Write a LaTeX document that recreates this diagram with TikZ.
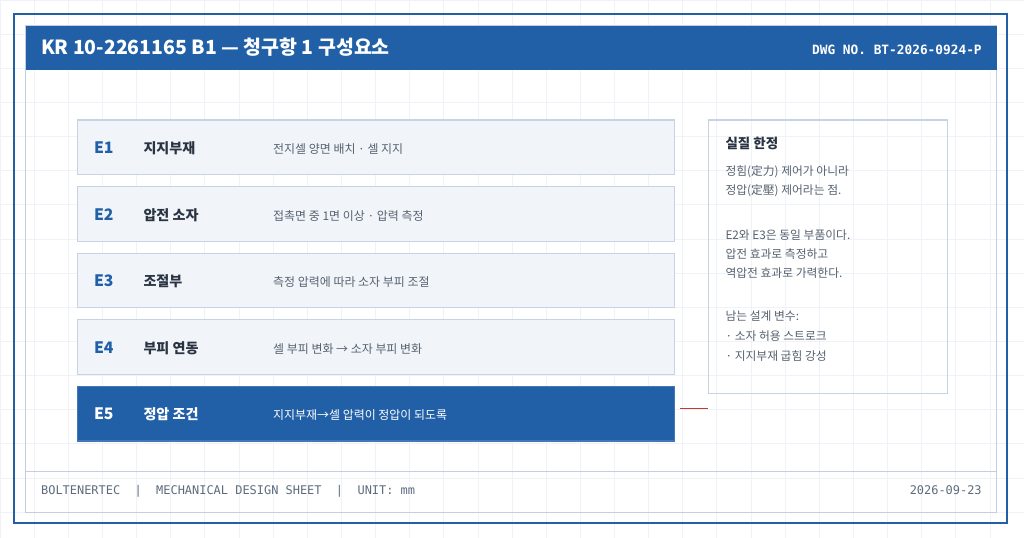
\documentclass[tikz,border=0pt]{standalone}
\usepackage{fontspec}
\setmainfont{Noto Sans CJK KR}
\newfontfamily\monof{DejaVu Sans Mono}
\usetikzlibrary{calc}
\definecolor{hdrblue}{HTML}{2160A7}
\definecolor{gridc}{HTML}{EFF2F8}
\definecolor{boxfill}{HTML}{F1F5FA}
\definecolor{boxline}{HTML}{C6D3E4}
\definecolor{framel}{HTML}{C3CFE0}
\definecolor{darktxt}{HTML}{2A3342}
\definecolor{graytxt}{HTML}{56616F}
\definecolor{foottxt}{HTML}{5E6B7E}
\definecolor{redl}{HTML}{C93A2E}
\tikzset{
  rowbox/.style={draw=boxline, line width=1.4pt, fill=boxfill, anchor=north west, minimum width=700pt, minimum height=64pt, inner sep=0pt},
  rowhot/.style={rowbox, fill=hdrblue, draw=hdrblue!85!white},
  elabel/.style={anchor=base west, inner sep=0pt, font=\fontsize{18.5}{20}\selectfont\bfseries, text=hdrblue},
  ename/.style={anchor=base west, inner sep=0pt, font=\fontsize{16.5}{18}\selectfont\bfseries, text=darktxt},
  edesc/.style={anchor=base west, inner sep=0pt, font=\fontsize{14}{15}\selectfont, text=graytxt},
  notetitle/.style={anchor=base west, inner sep=0pt, font=\fontsize{15.8}{17}\selectfont\bfseries, text=darktxt},
  notebody/.style={anchor=base west, inner sep=0pt, font=\fontsize{13.8}{15}\selectfont, text=graytxt},
  foot/.style={inner sep=0pt, font=\fontsize{14}{16}\selectfont\monof, text=foottxt},
}
\begin{document}
\begin{tikzpicture}[x=1pt,y=-1pt]
\useasboundingbox (0,0) rectangle (1200,630);
\fill[white] (0,0) rectangle (1200,630);
\foreach \i in {0,...,30} \draw[gridc, line width=0.8pt] (\i*40,0) -- (\i*40,630);
\foreach \j in {0,...,15} \draw[gridc, line width=0.8pt] (0,\j*40) -- (1200,\j*40);
% frames
\draw[hdrblue, line width=2.5pt] (16.5,16.5) rectangle (1180,613);
\draw[framel, line width=1pt] (30,30) rectangle (1168,600);
% header
\node[fill=hdrblue, anchor=north west, minimum width=1138pt, minimum height=52pt, inner sep=0pt] (hdr) at (30,30) {};
\node[anchor=base west, inner sep=0pt, text=white, font=\fontsize{22.8}{24}\selectfont\bfseries] (title) at (48,64) {KR 10-2261165 B1 — 청구항 1 구성요소};
\node[anchor=base east, inner sep=0pt, text=white, font=\fontsize{15}{17}\selectfont\monof\bfseries] (dwg) at (1150.6,64) {DWG NO. BT-2026-0924-P};
% rows
\node[rowbox] (e1) at (90,140) {};
\node[rowbox] (e2) at (90,218) {};
\node[rowbox] (e3) at (90,296) {};
\node[rowbox] (e4) at (90,374) {};
\node[rowhot] (e5) at (90,452) {};
\node[elabel] (e1l) at (110,180) {E1};
\node[ename] (e1n) at (168,180) {지지부재};
\node[edesc] (e1d) at (320,180) {전지셀 양면 배치 · 셀 지지};
\node[elabel] (e2l) at (110,258) {E2};
\node[ename] (e2n) at (168,258) {압전 소자};
\node[edesc] (e2d) at (320,258) {접촉면 중 1면 이상 · 압력 측정};
\node[elabel] (e3l) at (110,336) {E3};
\node[ename] (e3n) at (168,336) {조절부};
\node[edesc] (e3d) at (320,336) {측정 압력에 따라 소자 부피 조절};
\node[elabel] (e4l) at (110,414) {E4};
\node[ename] (e4n) at (168,414) {부피 연동};
\node[edesc] (e4d) at (320,414) {셀 부피 변화 → 소자 부피 변화};
\node[elabel, text=white] (e5l) at (110,492) {E5};
\node[ename, text=white] (e5n) at (168,492) {정압 조건};
\node[edesc, text=white] (e5d) at (320,492) {지지부재→셀 압력이 정압이 되도록};
% note box
\node[draw=boxline, line width=1.4pt, anchor=north west, minimum width=280pt, minimum height=320pt, inner sep=0pt] (note) at (830,140) {};
\node[notetitle] (nt) at (850,173.7) {실질 한정};
\node[notebody] (n1) at (850,206) {정힘(定力) 제어가 아니라};
\node[notebody] (n2) at (850,228) {정압(定壓) 제어라는 점.};
\node[notebody] (n3) at (850,280.5) {E2와 E3은 동일 부품이다.};
\node[notebody] (n4) at (850,303) {압전 효과로 측정하고};
\node[notebody] (n5) at (850,325.5) {역압전 효과로 가력한다.};
\node[notebody] (n6) at (850,376) {남는 설계 변수:};
\node[notebody] (n7) at (850,399.5) {· 소자 허용 스트로크};
\node[notebody] (n8) at (850,423) {· 지지부재 굽힘 강성};
% red connector
\coordinate (r1) at ($(e5.east)+(6,-6)$);
\draw[redl, line width=1.5pt] (r1) -- (r1 -| note.west);
% footer
\draw[framel, line width=1pt] (30,552.7) -- (1168,552.7);
\node[foot, anchor=base west] (f1) at (48,579.5) {BOLTENERTEC\ \ |\ \ MECHANICAL DESIGN SHEET\ \ |\ \ UNIT: mm};
\node[foot, anchor=base east] (f2) at (1150.6,579.5) {2026-09-23};
\end{tikzpicture}
\end{document}
